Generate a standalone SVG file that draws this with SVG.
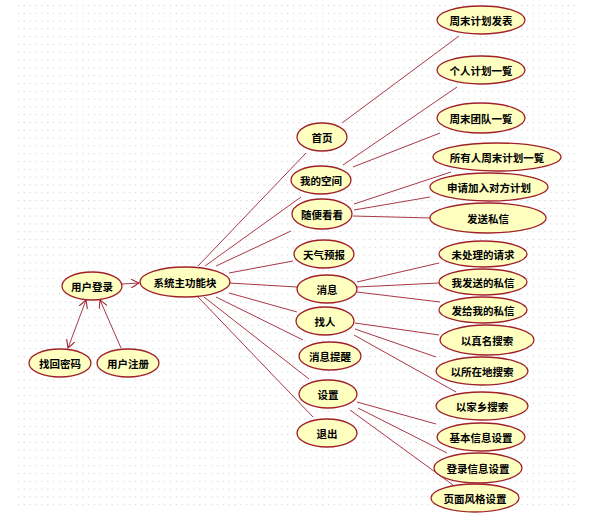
<svg xmlns="http://www.w3.org/2000/svg" width="606" height="513" viewBox="0 0 606 513">
<defs>
<pattern id="grid" x="18" y="5" width="5.85" height="7.8" patternUnits="userSpaceOnUse">
<rect x="0" y="0" width="1" height="1" fill="#cccccc"/>
</pattern>
<marker id="arr" viewBox="0 0 10 10" refX="9" refY="5" markerWidth="9" markerHeight="9" markerUnits="userSpaceOnUse" orient="auto-start-reverse">
<path d="M0,0 L9,5 L0,10" fill="none" stroke="#a0202a" stroke-width="1.2"/>
</marker>
</defs>
<style>
.n ellipse{fill:#ffffc0;stroke:#a0202a;stroke-width:1.3}
.n text{font-family:"Noto Sans CJK SC","Noto Sans CJK JP",sans-serif;font-size:10.5px;font-weight:bold;fill:#000;text-anchor:middle;dominant-baseline:central}
#connectors line{stroke:#a83848;stroke-width:1;fill:none}
</style>
<rect width="606" height="513" fill="#fff"/>
<rect x="18" y="5" width="558" height="503" fill="url(#grid)"/>
<g id="connectors">
<line x1="122" y1="284" x2="139" y2="283" marker-end="url(#arr)"/>
<line x1="68" y1="348" x2="86" y2="300" marker-start="url(#arr)" marker-end="url(#arr)"/>
<line x1="121" y1="348" x2="100" y2="300" marker-end="url(#arr)"/>
<line x1="198" y1="266" x2="306" y2="153"/>
<line x1="205" y1="266" x2="301" y2="197"/>
<line x1="216" y1="266" x2="291" y2="231"/>
<line x1="229" y1="273" x2="293" y2="261"/>
<line x1="229" y1="283" x2="297" y2="287"/>
<line x1="229" y1="293" x2="297" y2="312"/>
<line x1="216" y1="297" x2="303" y2="340"/>
<line x1="204" y1="297" x2="309" y2="379"/>
<line x1="198" y1="297" x2="313" y2="417"/>
<line x1="342" y1="123" x2="459" y2="36"/>
<line x1="343" y1="165" x2="457" y2="87"/>
<line x1="353" y1="167" x2="440" y2="133"/>
<line x1="354" y1="204" x2="451" y2="172"/>
<line x1="354" y1="210" x2="430" y2="197"/>
<line x1="353" y1="216" x2="431" y2="218"/>
<line x1="357" y1="282" x2="439" y2="263"/>
<line x1="357" y1="287" x2="439" y2="283"/>
<line x1="357" y1="292" x2="440" y2="302"/>
<line x1="355" y1="323" x2="439" y2="335"/>
<line x1="355" y1="329" x2="436" y2="357"/>
<line x1="354" y1="335" x2="456" y2="392"/>
<line x1="357" y1="402" x2="436" y2="424"/>
<line x1="358" y1="408" x2="447" y2="453"/>
<line x1="350" y1="410" x2="453" y2="485"/>
</g>
<g id="login" class="n"><ellipse cx="92" cy="286" rx="30" ry="14"/><text x="92" y="286">用户登录</text></g>
<g id="main" class="n"><ellipse cx="185" cy="282" rx="45" ry="15"/><text x="185" y="282">系统主功能块</text></g>
<g id="findpwd" class="n"><ellipse cx="60" cy="363" rx="31" ry="14"/><text x="60" y="363">找回密码</text></g>
<g id="register" class="n"><ellipse cx="128" cy="363" rx="31" ry="14"/><text x="128" y="363">用户注册</text></g>
<g id="home" class="n"><ellipse cx="322" cy="137" rx="25" ry="14"/><text x="322" y="137">首页</text></g>
<g id="myspace" class="n"><ellipse cx="321" cy="180" rx="30" ry="14"/><text x="321" y="180">我的空间</text></g>
<g id="browse" class="n"><ellipse cx="322" cy="214" rx="30" ry="15"/><text x="322" y="214">随便看看</text></g>
<g id="weather" class="n"><ellipse cx="324" cy="254" rx="30" ry="14"/><text x="324" y="254">天气预报</text></g>
<g id="msg" class="n"><ellipse cx="327" cy="289" rx="30" ry="14"/><text x="327" y="289">消息</text></g>
<g id="findpeople" class="n"><ellipse cx="325" cy="321" rx="29" ry="14"/><text x="325" y="321">找人</text></g>
<g id="remind" class="n"><ellipse cx="330" cy="356" rx="31" ry="14"/><text x="330" y="356">消息提醒</text></g>
<g id="settings" class="n"><ellipse cx="328" cy="394" rx="29" ry="14"/><text x="328" y="394">设置</text></g>
<g id="logout" class="n"><ellipse cx="327" cy="433" rx="30" ry="14"/><text x="327" y="433">退出</text></g>
<g id="publish" class="n"><ellipse cx="481" cy="20" rx="44" ry="14"/><text x="481" y="20">周末计划发表</text></g>
<g id="personal" class="n"><ellipse cx="481" cy="70" rx="44" ry="14"/><text x="481" y="70">个人计划一覧</text></g>
<g id="team" class="n"><ellipse cx="481" cy="118" rx="44" ry="15"/><text x="481" y="118">周末团队一覧</text></g>
<g id="allplans" class="n"><ellipse cx="497" cy="157" rx="64" ry="14"/><text x="497" y="157">所有人周末计划一覧</text></g>
<g id="join" class="n"><ellipse cx="489" cy="187" rx="59" ry="14"/><text x="489" y="187">申请加入对方计划</text></g>
<g id="sendpm" class="n"><ellipse cx="488" cy="218" rx="58" ry="15"/><text x="488" y="218">发送私信</text></g>
<g id="pending" class="n"><ellipse cx="483" cy="254" rx="44" ry="13"/><text x="483" y="254">未处理的请求</text></g>
<g id="sent" class="n"><ellipse cx="483" cy="282" rx="44" ry="13"/><text x="483" y="282">我发送的私信</text></g>
<g id="received" class="n"><ellipse cx="483" cy="310" rx="44" ry="13"/><text x="483" y="310">发给我的私信</text></g>
<g id="byname" class="n"><ellipse cx="487" cy="340" rx="47" ry="15"/><text x="487" y="340">以真名搜索</text></g>
<g id="byplace" class="n"><ellipse cx="482" cy="371" rx="46" ry="14"/><text x="482" y="371">以所在地搜索</text></g>
<g id="byhome" class="n"><ellipse cx="482" cy="406" rx="46" ry="14"/><text x="482" y="406">以家乡搜索</text></g>
<g id="basic" class="n"><ellipse cx="481" cy="437" rx="44" ry="14"/><text x="481" y="437">基本信息设置</text></g>
<g id="logininfo" class="n"><ellipse cx="478" cy="468" rx="44" ry="15"/><text x="478" y="468">登录信息设置</text></g>
<g id="style" class="n"><ellipse cx="475" cy="498" rx="44" ry="14"/><text x="475" y="498">页面风格设置</text></g>
</svg>
